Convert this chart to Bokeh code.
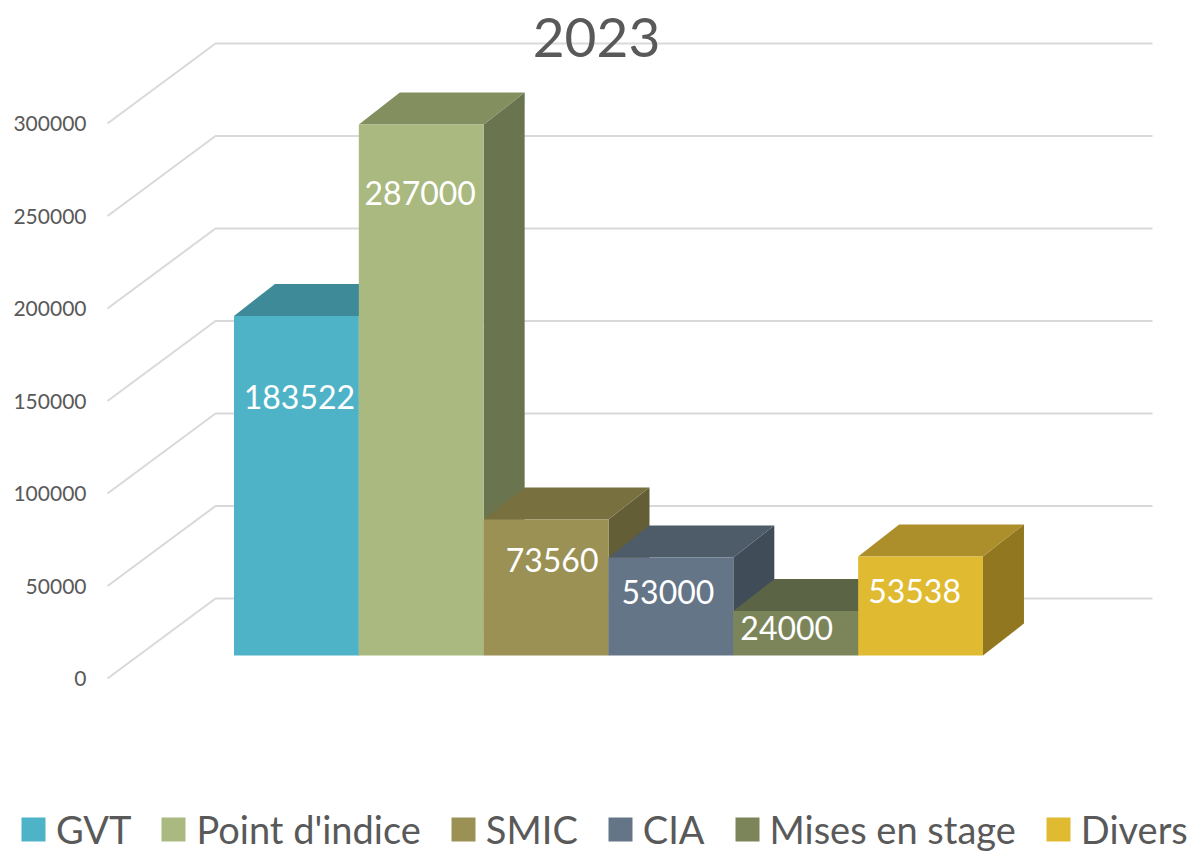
from bokeh.plotting import figure
from bokeh.models import Range1d, Legend, LegendItem, Label, FixedTicker, NumeralTickFormatter
from bokeh.core.properties import value
from bokeh.embed import file_html
from bokeh.resources import INLINE

# ---- data ----
categories = ["GVT", "Point d'indice", "SMIC", "CIA", "Mises en stage", "Divers"]
amounts = [183522, 287000, 73560, 53000, 24000, 53538]
y_ticks = [0, 50000, 100000, 150000, 200000, 250000, 300000]
front_colors = ["#4FB3C8", "#A9B97F", "#9B9155", "#647588", "#7C855A", "#E0BA31"]
top_colors = ["#3E8A99", "#838F5F", "#79703F", "#4E5B69", "#5C6446", "#AC8E2A"]
side_colors = ["#316D79", "#6A744F", "#645E36", "#414C59", "#4A5138", "#917820"]
chart_title = "2023"

# ---- pseudo-3D layout constants (pixels) ----
W, H = 1189, 852
FRAME_LEFT, PLANE_ZERO = 107, 678
K = 555 / 300000           # px per value unit
BAR_W = 124.83             # px per category
BAR_X0 = 233.5
X = lambda px: (px - BAR_X0) / BAR_W
V = lambda px: px / K
label_dx = [3, -1, 6, -3, -9, -6]
label_drop = [81, 68, 41, 35, 17, 35]

p = figure(width=W, height=H, output_backend="svg", toolbar_location=None,
           x_range=Range1d(X(0), X(W)),
           y_range=Range1d(V(PLANE_ZERO - H), V(PLANE_ZERO)),
           min_border_left=0, min_border_right=0,
           min_border_top=0, min_border_bottom=0, x_axis_location=None)
p.outline_line_color = None
p.background_fill_color = None
p.grid.visible = False

# value axis on the left plane
ax = p.yaxis[0]
ax.fixed_location = X(FRAME_LEFT)
ax.ticker = FixedTicker(ticks=y_ticks)
ax.formatter = NumeralTickFormatter(format="0")
ax.axis_line_color = None
ax.major_tick_line_color = None
ax.minor_tick_line_color = None
ax.major_label_standoff = 15
ax.major_label_text_font = "Lato"
ax.major_label_text_font_size = "21px"
ax.major_label_text_color = "#595959"

# walls: each tick runs up the side wall then along the back wall
wall_dx, wall_dy = X(215), V(80)
wall_x1 = X(1152)
xs = [[X(FRAME_LEFT), wall_dx, wall_x1] for _ in y_ticks]
ys = [[t, t + wall_dy, t + wall_dy] for t in y_ticks]
p.multi_line(xs, ys, line_color="#D9D9D9", line_width=2)

# bars
base = V(PLANE_ZERO - 655)
dx, dy = 41 / BAR_W, V(32)
items = []
for i, (name, val) in enumerate(zip(categories, amounts)):
    top = base + val
    p.patch([i + 1, i + 1 + dx, i + 1 + dx, i + 1],
            [base, base + dy, top + dy, top], fill_color=side_colors[i], line_color=None)
    p.patch([i, i + dx, i + 1 + dx, i + 1],
            [top, top + dy, top + dy, top], fill_color=top_colors[i], line_color=None)
    r = p.quad(left=i, right=i + 1, bottom=base, top=top,
               fill_color=front_colors[i], line_color=None)
    items.append(LegendItem(label=name, renderers=[r]))

# data labels, drawn after every bar
p.text(x=[i + 0.5 + label_dx[i] / BAR_W for i in range(len(amounts))],
       y=[base + v - V(label_drop[i]) for i, v in enumerate(amounts)],
       text=[str(v) for v in amounts], text_color="#FFFFFF",
       text_font=value("Lato"), text_font_size="32px",
       text_align="center", text_baseline="middle")

legend = Legend(items=items, orientation="horizontal", location=(18, 0),
                glyph_width=30, glyph_height=30, label_standoff=8, spacing=27,
                padding=0, margin=0, border_line_color=None, background_fill_color=None,
                background_fill_alpha=0, label_text_font="Lato", label_text_font_size="38px",
                label_text_color="#595959", label_height=24)
p.add_layout(legend, "center")

p.add_layout(Label(x=X(596), y=V(PLANE_ZERO - 37), text=chart_title, text_font="Lato",
                   text_font_size="55px", text_color="#595959",
                   text_align="center", text_baseline="middle"))

open("out.html", "w").write(file_html(p, INLINE))
